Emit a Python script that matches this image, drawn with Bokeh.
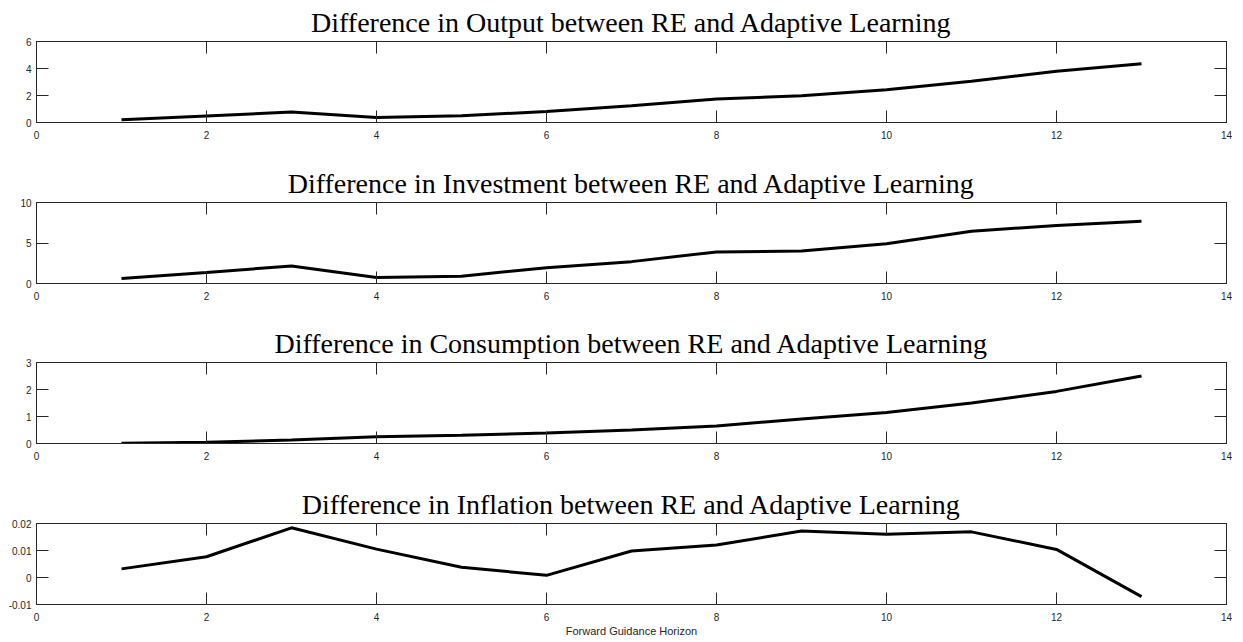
from bokeh.plotting import figure
from bokeh.layouts import column
from bokeh.models import Range1d, LinearAxis, FixedTicker
from bokeh.embed import file_html
from bokeh.resources import INLINE

horizon = [1, 2, 3, 4, 5, 6, 7, 8, 9, 10, 11, 12, 13]
output_diff = [0.20, 0.48, 0.77, 0.37, 0.50, 0.82, 1.24, 1.74, 1.98, 2.43, 3.05, 3.79, 4.36]
investment_diff = [0.63, 1.37, 2.17, 0.75, 0.90, 1.95, 2.70, 3.90, 4.00, 4.92, 6.46, 7.17, 7.70]
consumption_diff = [0.01, 0.05, 0.13, 0.25, 0.31, 0.39, 0.50, 0.65, 0.91, 1.15, 1.50, 1.93, 2.50]
inflation_diff = [0.0032, 0.0077, 0.0184, 0.0105, 0.0038, 0.0008, 0.0098, 0.0120, 0.0172, 0.0160, 0.0169, 0.0104, -0.0071]

titles = [
    "Difference in Output between RE and Adaptive Learning",
    "Difference in Investment between RE and Adaptive Learning",
    "Difference in Consumption between RE and Adaptive Learning",
    "Difference in Inflation between RE and Adaptive Learning",
]
series = [output_diff, investment_diff, consumption_diff, inflation_diff]
y_limits = [(0, 6), (0, 10), (0, 3), (-0.01, 0.02)]
y_ticks = [[0, 2, 4, 6], [0, 5, 10], [0, 1, 2, 3], [-0.01, 0, 0.01, 0.02]]
y_tick_labels = [None, None, None, {-0.01: "-0.01", 0: "0", 0.01: "0.01", 0.02: "0.02"}]
x_ticks = [0, 2, 4, 6, 8, 10, 12, 14]
x_label = "Forward Guidance Horizon"

AX = "#262626"
TICK_FONT = "Liberation Sans"


def style_axis(ax, ticks, show_labels=True):
    ax.ticker = FixedTicker(ticks=ticks)
    ax.major_tick_in = 12
    ax.major_tick_out = 0
    ax.minor_tick_in = 0
    ax.minor_tick_out = 0
    ax.major_tick_line_color = AX
    ax.major_tick_line_width = 1
    ax.axis_line_color = AX
    ax.axis_line_width = 1
    ax.major_label_text_font = TICK_FONT
    if show_labels:
        ax.major_label_text_color = AX
        ax.major_label_text_font_size = "10px"
    else:
        ax.major_label_text_color = None
        ax.major_label_text_font_size = "0px"
        ax.major_label_standoff = 0


figs = []
tops = [41, 41, 41, 41]
bottoms = [39, 38, 39, 36]
for i in range(4):
    p = figure(
        frame_width=1190, frame_height=81,
        x_range=Range1d(0, 14), y_range=Range1d(*y_limits[i]),
        output_backend="svg", toolbar_location=None,
        min_border_left=36, min_border_right=6,
        min_border_top=tops[i], min_border_bottom=bottoms[i],
    )
    p.grid.visible = False
    p.outline_line_color = AX
    p.background_fill_color = "white"
    p.border_fill_color = "white"

    p.title.text = titles[i]
    p.title.align = "center"
    p.title.text_font = "Liberation Serif"
    p.title.text_font_size = "28px"
    p.title.text_font_style = "normal"
    p.title.text_color = "black"
    p.title.standoff = 7

    bottom_ax = p.below[0]
    left_ax = p.left[0]
    style_axis(bottom_ax, x_ticks)
    bottom_ax.major_label_standoff = 8
    style_axis(left_ax, y_ticks[i])
    left_ax.major_label_standoff = 5
    if y_tick_labels[i]:
        left_ax.major_label_overrides = y_tick_labels[i]

    top_ax = LinearAxis()
    style_axis(top_ax, x_ticks, show_labels=False)
    p.add_layout(top_ax, "above")
    right_ax = LinearAxis()
    style_axis(right_ax, y_ticks[i], show_labels=False)
    p.add_layout(right_ax, "right")

    if i == 3:
        bottom_ax.axis_label = x_label
        bottom_ax.axis_label_text_font = TICK_FONT
        bottom_ax.axis_label_text_font_size = "11px"
        bottom_ax.axis_label_text_font_style = "normal"
        bottom_ax.axis_label_text_color = AX
        bottom_ax.axis_label_standoff = 1

    p.line(horizon, series[i], line_color="black", line_width=3)
    figs.append(p)

layout = column(*figs, spacing=0)
open("out.html", "w").write(file_html(layout, INLINE))
